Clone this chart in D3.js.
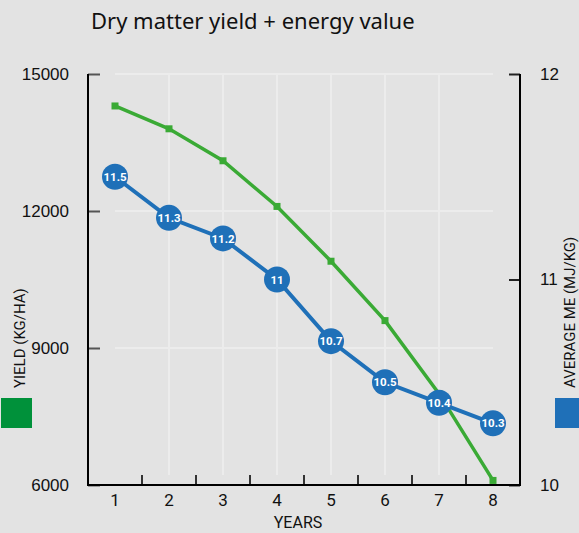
<!DOCTYPE html>
<html>
<head>
<meta charset="utf-8">
<script src="https://cdn.jsdelivr.net/npm/d3@7"></script>
<style>
  html, body { margin: 0; padding: 0; background: #e3e3e3; }
  svg { display: block; font-family: Roboto, sans-serif; }
</style>
</head>
<body>
<svg id="chart" width="579" height="533"></svg>
<script>
const years = [1, 2, 3, 4, 5, 6, 7, 8];
const yieldValues = [14300, 13800, 13100, 12100, 10900, 9600, 8000, 6100];
const meValues = [11.5, 11.3, 11.2, 11, 10.7, 10.5, 10.4, 10.3];
const yieldTicks = [6000, 9000, 12000, 15000];
const meTicks = [10, 11, 12];

const green = "#3aaa35";
const blue = "#1f70b8";

const svg = d3.select("#chart");
const plotLeft = 88, plotRight = 520, plotTop = 74, plotBottom = 485;

const x = d3.scaleBand().domain(years).range([plotLeft, plotRight]);
const yL = d3.scaleLinear().domain([6000, 15000]).range([plotBottom, plotTop]);
const yR = d3.scaleLinear().domain([10, 12]).range([plotBottom, plotTop]);
const cx = d => x(d) + x.bandwidth() / 2;

svg.append("rect").attr("width", 579).attr("height", 533).attr("fill", "#e3e3e3");

// title
svg.append("text")
    .attr("x", 91)
    .attr("y", 29)
    .attr("font-family", "'Noto Sans', sans-serif")
    .attr("font-size", 22)
    .attr("fill", "#111")
    .text("Dry matter yield + energy value");

// grid
const grid = svg.append("g").attr("stroke", "#ececec").attr("stroke-width", 2);
yieldTicks.slice(1).forEach(t => {
    grid.append("line")
        .attr("x1", cx(years[0])).attr("x2", cx(years[years.length - 1]))
        .attr("y1", yL(t)).attr("y2", yL(t));
});
years.slice(1, -1).forEach(d => {
    grid.append("line")
        .attr("x1", cx(d)).attr("x2", cx(d))
        .attr("y1", plotTop).attr("y2", plotBottom - 10);
});

// left axis
const leftAxis = svg.append("g")
    .attr("transform", "translate(" + plotLeft + ",0)")
    .call(d3.axisLeft(yL).tickValues(yieldTicks).tickSize(-12).tickPadding(19).tickFormat(d3.format("d")));
leftAxis.select(".domain").remove();
leftAxis.selectAll(".tick line").attr("stroke", "#555").attr("stroke-width", 2);
leftAxis.selectAll("text").attr("font-size", 17).attr("fill", "#111");

// right axis
const rightAxis = svg.append("g")
    .attr("transform", "translate(" + plotRight + ",0)")
    .call(d3.axisRight(yR).tickValues(meTicks).tickSize(-11).tickPadding(20).tickFormat(d3.format("d")));
rightAxis.select(".domain").remove();
rightAxis.selectAll(".tick line").attr("stroke", "#222").attr("stroke-width", 2);
rightAxis.selectAll("text").attr("font-size", 17).attr("fill", "#111");

// bottom axis ticks at band edges
const bottomAxis = svg.append("g");
years.slice(1).forEach(d => {
    bottomAxis.append("line")
        .attr("x1", x(d)).attr("x2", x(d))
        .attr("y1", plotBottom).attr("y2", plotBottom - 10)
        .attr("stroke", "#333").attr("stroke-width", 2);
});
bottomAxis.selectAll("text.year")
    .data(years)
    .enter()
    .append("text")
    .attr("class", "year")
    .attr("x", d => cx(d))
    .attr("y", 506)
    .attr("text-anchor", "middle")
    .attr("font-size", 17)
    .attr("fill", "#111")
    .text(d => d);

// axis lines
svg.append("path")
    .attr("d", "M" + plotLeft + "," + plotTop + "V" + plotBottom + "H" + plotRight + "V" + plotTop)
    .attr("stroke", "#000").attr("stroke-width", 2).attr("fill", "none");

// axis titles
svg.append("text")
    .attr("x", (plotLeft + plotRight) / 2 - 6)
    .attr("y", 528)
    .attr("text-anchor", "middle")
    .attr("font-size", 16)
    .attr("fill", "#111")
    .text("YEARS");

svg.append("text")
    .attr("transform", "translate(25,388) rotate(-90)")
    .attr("font-size", 15)
    .attr("fill", "#111")
    .text("YIELD (KG/HA)");

svg.append("text")
    .attr("transform", "translate(575,388) rotate(-90)")
    .attr("font-size", 15)
    .attr("fill", "#111")
    .text("AVERAGE ME (MJ/KG)");

// legend squares
svg.append("rect").attr("x", 1).attr("y", 398).attr("width", 31).attr("height", 30).attr("fill", "#00913a");
svg.append("rect").attr("x", 555).attr("y", 398).attr("width", 24).attr("height", 30).attr("fill", blue);

// green yield line
const greenLine = d3.line()
    .x((d, i) => cx(years[i]))
    .y(d => yL(d));
svg.append("path")
    .attr("d", greenLine(yieldValues))
    .attr("fill", "none")
    .attr("stroke", green)
    .attr("stroke-width", 3.5);
svg.selectAll("rect.gpt")
    .data(yieldValues)
    .enter()
    .append("rect")
    .attr("class", "gpt")
    .attr("x", (d, i) => cx(years[i]) - 3.5)
    .attr("y", d => yL(d) - 3.5)
    .attr("width", 7)
    .attr("height", 7)
    .attr("fill", green);

// blue ME line
const blueLine = d3.line()
    .x((d, i) => cx(years[i]))
    .y(d => yR(d));
svg.append("path")
    .attr("d", blueLine(meValues))
    .attr("fill", "none")
    .attr("stroke", blue)
    .attr("stroke-width", 4);
const dots = svg.selectAll("g.bpt")
    .data(meValues)
    .enter()
    .append("g")
    .attr("class", "bpt")
    .attr("transform", (d, i) => "translate(" + cx(years[i]) + "," + yR(d) + ")");
dots.append("circle").attr("r", 13).attr("fill", blue);
dots.append("text")
    .attr("text-anchor", "middle")
    .attr("dy", "0.36em")
    .attr("font-size", 11.5)
    .attr("font-weight", "bold")
    .attr("fill", "#fff")
    .text(d => d);
</script>
</body>
</html>
